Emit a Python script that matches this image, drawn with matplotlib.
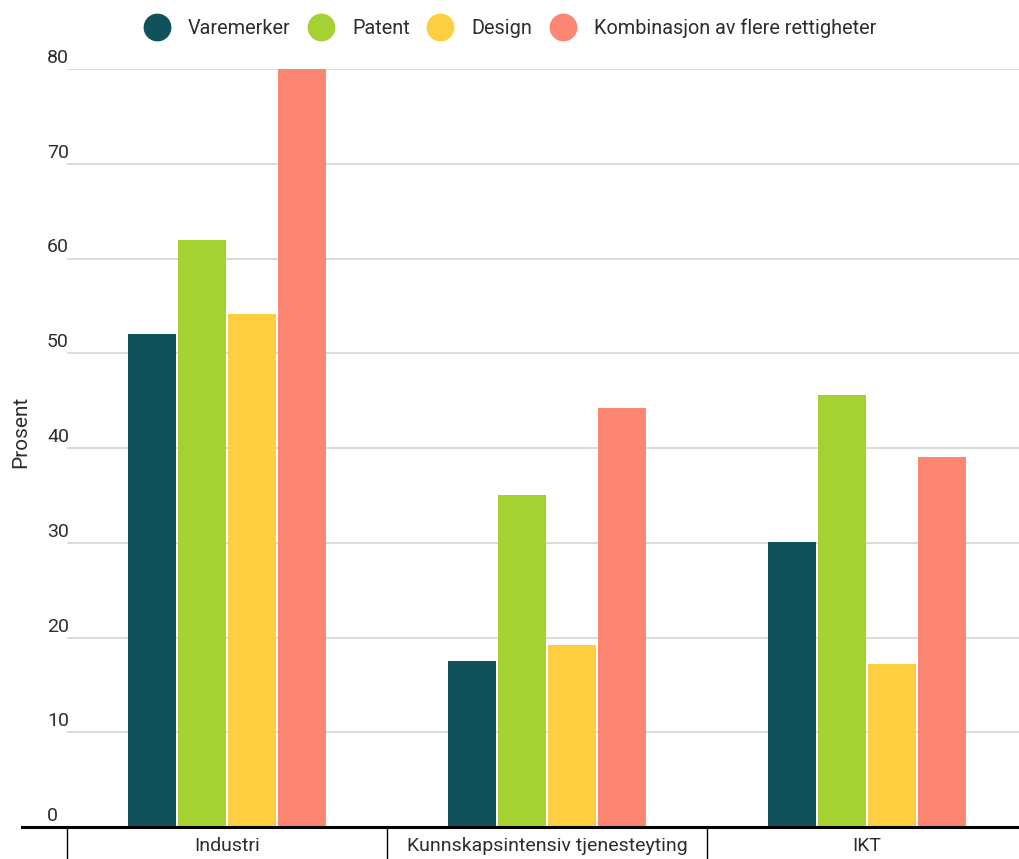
import matplotlib
matplotlib.use("Agg")
import matplotlib.pyplot as plt
from matplotlib.lines import Line2D
import matplotlib.transforms as mtransforms
import numpy as np

plt.rcParams['font.family'] = ['Roboto', 'DejaVu Sans']

categories = ["Industri", "Kunnskapsintensiv tjenesteyting", "IKT"]
series_names = ["Varemerker", "Patent", "Design", "Kombinasjon av flere rettigheter"]
varemerker = [52.0, 17.5, 30.1]
patent = [62.0, 35.0, 45.6]
design = [54.1, 19.2, 17.2]
kombinasjon = [80.0, 44.2, 39.0]
yticks = [0, 10, 20, 30, 40, 50, 60, 70, 80]
colors = ["#11525A", "#A6D133", "#FDCF40", "#FD8672"]
text_color = "#2e2e2e"

W, H = 1020, 859
fig = plt.figure(figsize=(W / 100, H / 100), dpi=100)
ax_left = 67 / W
ax_bottom = 1 - 827 / H
ax_top = 1 - 69 / H
ax = fig.add_axes([ax_left, ax_bottom, 1 - ax_left, ax_top - ax_bottom])

x = np.arange(len(categories))
pitch = 50 / 320
width = 48 / 320
all_series = [varemerker, patent, design, kombinasjon]
for i, (vals, name, c) in enumerate(zip(all_series, series_names, colors)):
    ax.bar(x + (i - 1.5) * pitch, vals, width=width, color=c, label=name, zorder=3)

ax.set_ylim(0, 80)
ax.set_xlim(-0.5, -0.5 + (W - 67) / 320)
ax.set_yticks(yticks)
ax.set_yticklabels([str(v) for v in yticks])
ax.yaxis.grid(True, color="#d4d4d4", linewidth=1.2, zorder=0)
ax.set_axisbelow(True)
for s in ax.spines.values():
    s.set_visible(False)

ax.tick_params(axis='y', length=0, pad=20 * 72 / 100, labelsize=14, labelcolor=text_color)
offset = mtransforms.ScaledTranslation(0, 2 / 100, fig.dpi_scale_trans)
for lab in ax.get_yticklabels():
    lab.set_horizontalalignment('left')
    lab.set_verticalalignment('bottom')
    lab.set_transform(lab.get_transform() + offset)

ax.set_xticks(x)
ax.set_xticklabels(categories)
ax.tick_params(axis='x', which='major', length=0, pad=7, labelsize=14, labelcolor=text_color)
ax.set_xticks([-0.5, 0.5, 1.5], minor=True)
ax.tick_params(axis='x', which='minor', length=34 * 72 / 100, width=1, color='black', direction='out')

ax.set_ylabel("Prosent", fontsize=15, color=text_color)
ax.yaxis.set_label_coords(30 / W, 1 - 432 / H, transform=fig.transFigure)

fig.add_artist(Line2D([22 / W, 1.0], [ax_bottom, ax_bottom], transform=fig.transFigure,
                      color='black', linewidth=2.2, zorder=5))

handles = [Line2D([], [], marker='o', linestyle='none', markersize=19,
                  markerfacecolor=c, markeredgecolor=c) for c in colors]
fig.legend(handles, series_names, loc='center', bbox_to_anchor=(0.4995, 1 - 28 / H),
           ncol=4, frameon=False, fontsize=14.3, labelcolor=text_color,
           handlelength=1.4, handletextpad=0.85, columnspacing=0.85, borderpad=0)

fig.savefig("out.png", dpi=100)
